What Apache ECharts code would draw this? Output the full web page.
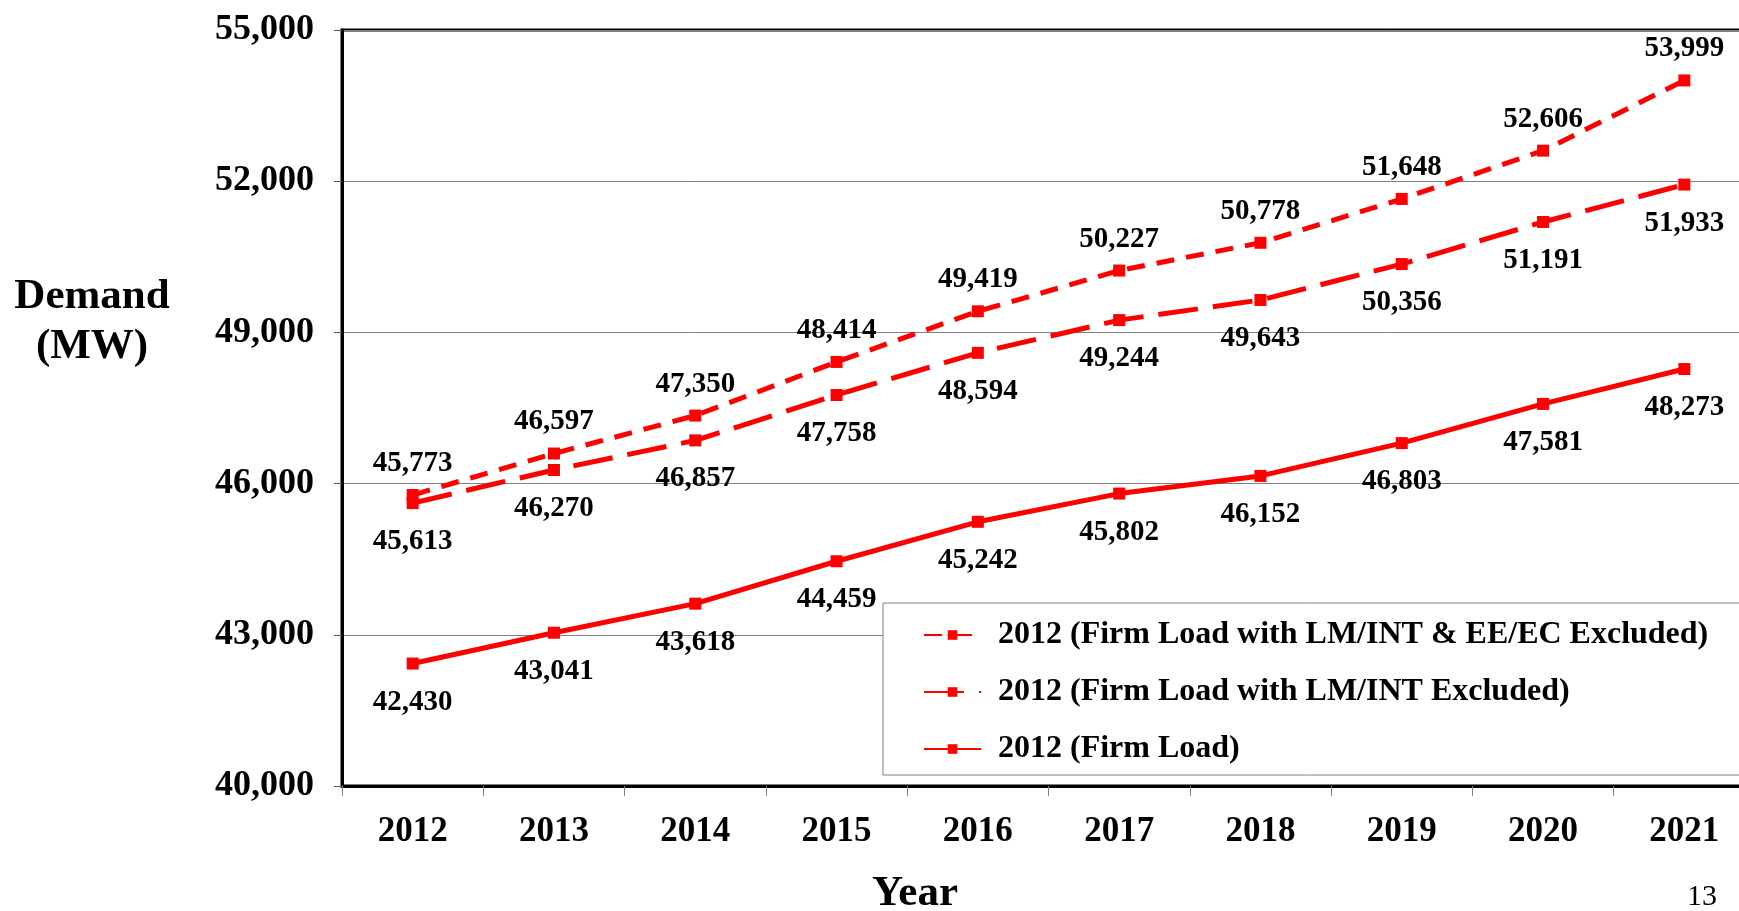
<!DOCTYPE html>
<html>
<head>
<meta charset="utf-8">
<style>
  html, body { margin: 0; padding: 0; background: #fff; }
  #main { width: 1739px; height: 911px; }
</style>
<script src="https://cdn.jsdelivr.net/npm/echarts@6/dist/echarts.min.js"></script>
</head>
<body>
<div id="main"></div>
<script>
// chart data
const years = ["2012", "2013", "2014", "2015", "2016", "2017", "2018", "2019", "2020", "2021"]
const eeExcluded = [45773, 46597, 47350, 48414, 49419, 50227, 50778, 51648, 52606, 53999]
const lmExcluded = [45613, 46270, 46857, 47758, 48594, 49244, 49643, 50356, 51191, 51933]
const firmLoad = [42430, 43041, 43618, 44459, 45242, 45802, 46152, 46803, 47581, 48273]
const seriesNames = [
  "2012 (Firm Load with LM/INT & EE/EC Excluded)",
  "2012 (Firm Load with LM/INT Excluded)",
  "2012 (Firm Load)",
]

const FONT = "Liberation Serif, Times New Roman, serif"
const RED = "#ff0000"
const fmt = (p) => p.value.toLocaleString("en-US")

const labelStyle = (pos, dist) => ({
  show: true,
  position: pos,
  distance: dist,
  formatter: fmt,
  color: "#000",
  fontFamily: FONT,
  fontWeight: "bold",
  fontSize: 29,
})

const makeSeries = (name, data, dash, pos, dist) => ({
  name: name,
  type: "line",
  data: data,
  symbol: "rect",
  symbolSize: 12,
  itemStyle: { color: RED },
  lineStyle: { color: RED, width: 5, type: dash, cap: "butt" },
  label: labelStyle(pos, dist),
  z: 3,
})

var chart = echarts.init(document.getElementById("main"))
chart.setOption({
  animation: false,
  backgroundColor: "#fff",
  grid: {
    left: 342,
    top: 30,
    width: 1413, // plot runs past the right edge of the page
    bottom: 125,
    outerBoundsMode: "none",
    show: true,
    borderColor: "#000",
    borderWidth: 3,
  },
  legend: {
    orient: "vertical",
    left: 883,
    top: 603,
    padding: [16, 60, 10, 40],
    itemGap: 25,
    itemWidth: 57,
    itemHeight: 12,
    backgroundColor: "#fff",
    borderColor: "#808080",
    borderWidth: 1,
    textStyle: {
      fontFamily: FONT,
      fontWeight: "bold",
      fontSize: 32,
      color: "#000",
      padding: [0, 0, 0, 12],
    },
    data: seriesNames,
  },
  xAxis: {
    type: "category",
    data: years,
    boundaryGap: true,
    axisLine: { lineStyle: { color: "#000", width: 3 } },
    axisTick: { show: true, length: 10, lineStyle: { color: "#808080" } },
    axisLabel: {
      margin: 28,
      color: "#000",
      fontFamily: FONT,
      fontWeight: "bold",
      fontSize: 35,
    },
  },
  yAxis: {
    type: "value",
    min: 40000,
    max: 55000,
    interval: 3000,
    axisLine: { show: true, lineStyle: { color: "#000", width: 3 } },
    axisTick: { show: true, length: 8, lineStyle: { color: "#555" } },
    splitLine: { lineStyle: { color: "#808080", width: 1 } },
    axisLabel: {
      margin: 28,
      color: "#000",
      fontFamily: FONT,
      fontWeight: "bold",
      fontSize: 36,
      formatter: (v) => v.toLocaleString("en-US"),
    },
  },
  graphic: [
    {
      type: "text",
      x: 92,
      y: 297,
      style: {
        text: "Demand",
        align: "center",
        verticalAlign: "middle",
        fontFamily: FONT,
        fontWeight: "bold",
        fontSize: 43,
        fill: "#000",
      },
    },
    {
      type: "text",
      x: 92,
      y: 347,
      style: {
        text: "(MW)",
        align: "center",
        verticalAlign: "middle",
        fontFamily: FONT,
        fontWeight: "bold",
        fontSize: 43,
        fill: "#000",
      },
    },
    {
      type: "text",
      x: 915,
      y: 894,
      style: {
        text: "Year",
        align: "center",
        verticalAlign: "middle",
        fontFamily: FONT,
        fontWeight: "bold",
        fontSize: 43,
        fill: "#000",
      },
    },
    {
      type: "text",
      x: 1702,
      y: 897,
      style: {
        text: "13",
        align: "center",
        verticalAlign: "middle",
        fontFamily: FONT,
        fontSize: 30,
        fill: "#000",
      },
    },
  ],
  series: [
    makeSeries(seriesNames[0], eeExcluded, [18, 12], "top", 11),
    makeSeries(seriesNames[1], lmExcluded, [40, 15], "bottom", 18),
    makeSeries(seriesNames[2], firmLoad, "solid", "bottom", 18),
  ],
})
window.addEventListener("resize", () => {
  chart.resize()
})
</script>
</body>
</html>
